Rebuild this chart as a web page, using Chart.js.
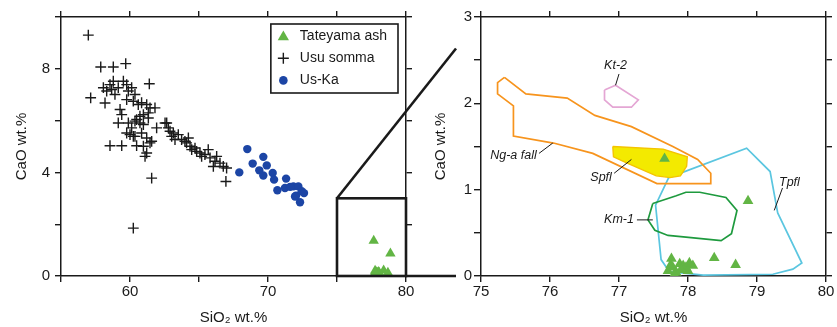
<!DOCTYPE html>
<html><head><meta charset="utf-8">
<script src="https://cdn.jsdelivr.net/npm/chart.js@4/dist/chart.umd.min.js"></script>
<style>
html,body{margin:0;padding:0;background:#fff;}
#wrap{position:relative;width:837px;height:327px;background:#fff;}
#wrap canvas{position:absolute;left:0;top:0;}
</style></head><body>
<div id="wrap"><canvas id="leftC" width="837" height="327"></canvas><canvas id="rightC" width="837" height="327"></canvas></div>
<script>
// ---------------- DATA (SiO2 wt.%, CaO wt.%) ----------------
const tateyamaAsh = [[77.66,1.36],[78.87,0.87],[78.38,0.21],[78.69,0.13],[77.76,0.20],[77.71,0.06],[77.78,0.10],[77.83,0.04],[77.88,0.14],[77.93,0.12],[77.97,0.10],[78.02,0.15],[78.07,0.12],[77.80,0.02],[77.90,0.07],[78.00,0.06],[77.75,0.13]];
const usuSomma = [[56.98,9.30],[57.88,8.07],[58.79,8.07],[59.69,8.20],[61.40,7.42],[57.15,6.88],[58.19,6.68],
 [58.07,7.27],[58.31,7.14],[58.55,7.39],[58.79,7.52],[58.67,7.20],[58.91,7.01],[59.15,7.27],[59.52,7.52],[59.76,7.39],[59.88,7.14],[60.12,7.27],[60.36,7.01],[59.76,6.81],[60.24,6.75],[60.60,6.62],[60.84,6.69],[61.21,6.62],[61.45,6.49],[61.81,6.49],[61.33,6.30],[60.97,6.23],[60.72,6.17],[60.48,6.04],[60.72,5.91],[60.36,5.98],[59.28,6.43],[59.40,6.23],[59.15,5.91],[59.88,5.91],[60.12,5.72],[61.33,6.10],[60.97,5.85],[61.93,5.72],[60.00,5.46],[60.36,5.39],[60.84,5.52],[61.21,5.33],[61.57,5.20],[58.55,5.03],[59.40,5.03],[60.48,5.03],[61.21,4.75],[61.09,4.62],[62.54,5.91],
 [59.76,5.52],[60.24,5.39],[60.97,5.01],[61.45,5.14],
 [62.66,5.91],[62.78,5.72],[62.90,5.59],[63.14,5.52],[63.02,5.39],[63.26,5.27],[63.50,5.46],[63.74,5.27],[63.98,5.20],[64.10,5.14],[64.23,5.33],[64.35,5.01],[64.47,4.88],[64.71,4.94],[64.83,4.81],[65.07,4.75],[65.19,4.62],[65.43,4.69],[65.67,4.88],[65.80,4.56],[66.16,4.43],[66.28,4.62],[66.52,4.36],[66.76,4.23],[67.00,4.17],[66.04,4.23],[66.95,3.65],
 [61.57,3.78],[60.24,1.85]];
const usKa = [[67.92,4.00],[68.50,4.90],[68.89,4.34],[69.66,4.60],[69.91,4.27],[69.37,4.08],[69.66,3.88],[70.34,3.98],[70.44,3.72],[70.68,3.31],[71.31,3.76],[71.23,3.40],[71.84,3.46],[72.20,3.46],[72.03,3.10],[72.44,3.27],[72.61,3.20],[72.32,2.85],[71.96,3.07],[71.60,3.44]];
// compositional fields (right panel)
const ngaFall = [[75.34,2.30],[75.24,2.24],[75.24,2.11],[75.47,1.97],[75.47,1.62],[76.05,1.54],[76.62,1.42],[77.55,1.07],[78.33,1.07],[78.33,1.19],[78.14,1.35],[77.78,1.50],[77.18,1.73],[76.65,1.86],[76.25,2.06],[75.65,2.11],[75.34,2.30]];
const kt2 = [[76.79,2.155],[76.95,2.21],[77.28,2.04],[77.18,1.955],[76.91,1.955],[76.79,2.04],[76.79,2.155]];
const spfl = [[76.91,1.50],[76.92,1.38],[77.11,1.31],[77.54,1.16],[77.74,1.14],[77.89,1.16],[77.98,1.27],[77.99,1.38],[77.64,1.47],[76.91,1.50]];
const km1 = [[77.49,0.84],[77.42,0.65],[77.52,0.53],[77.71,0.47],[77.97,0.45],[78.48,0.41],[78.63,0.49],[78.71,0.76],[78.55,0.91],[78.17,0.97],[77.97,0.97],[77.83,0.93],[77.49,0.84]];
const tpfl = [[77.72,1.14],[78.85,1.48],[79.19,1.21],[79.30,0.73],[79.65,0.15],[79.52,0.08],[79.23,0.02],[78.22,0.01],[77.73,0.05],[77.61,0.19],[77.53,0.82],[77.72,1.14]];
const seriesLabels = ['Tateyama ash','Usu somma','Us-Ka'];
const fieldLabels = ['Ng-a fall','Kt-2','Spfl','Km-1','Tpfl'];
const axisTitleX = 'SiO\u2082 wt.%';
const axisTitleY = 'CaO wt.%';
const leftX = [55,80], leftY = [0,10], rightX = [75,80], rightY = [0,3];
const insetBox = [[75,0],[80,3]];
// label anchors for the field names [text x,y, leader from x,y, to x,y]
const fieldNotes = [
 ['Kt-2', 76.95,2.44, 77.00,2.34, 76.95,2.21],
 ['Ng-a fall', 75.47,1.39, 75.84,1.42, 76.04,1.54],
 ['Spfl', 76.74,1.14, 76.93,1.19, 77.18,1.35],
 ['Km-1', 77.00,0.65, 77.26,0.65, 77.49,0.65],
 ['Tpfl', 79.47,1.08, 79.37,1.02, 79.25,0.76]
];

// ---------------- STYLE ----------------
const FONT = "'Liberation Sans', Arial, Helvetica, 'DejaVu Sans', sans-serif";
Chart.defaults.font.family = FONT;
Chart.defaults.color = '#1a1a1a';
const INK = '#1a1a1a';
const GREEN = '#62b544', BLUE = '#1c45a5';
const pts = a => a.map(p => ({x:p[0], y:p[1]}));

function axis(pos, min, max, step, labelFn, tl, pad, fitSize, title) {
  const o = {
    type:'linear', position:pos, min:min, max:max,
    ticks:{stepSize:step, autoSkip:false, maxRotation:0, padding:pad, font:{size:15}, color:INK,
           display: labelFn !== null, callback: labelFn || (()=> '')},
    grid:{display:true, drawOnChartArea:false, drawTicks:true, tickLength:tl, lineWidth:1.4, color:INK},
    border:{display:true, width:1.5, color:INK},
    afterFit: s => { if (pos==='left'||pos==='right') s.width = fitSize; else s.height = fitSize; }
  };
  if (title) o.title = {display:true, text:title, font:{size:15}, color:INK, padding:{top:0,bottom:0}};
  return o;
}

// left panel
const leftPlugin = {
  id:'leftExtras',
  afterDraw(chart) {
    const ctx = chart.ctx, xs = chart.scales.x, ys = chart.scales.y, ca = chart.chartArea;
    // inset rectangle
    ctx.save();
    ctx.strokeStyle = INK; ctx.lineWidth = 2.6;
    const x0 = xs.getPixelForValue(insetBox[0][0]), x1 = xs.getPixelForValue(insetBox[1][0]);
    const y0 = ys.getPixelForValue(insetBox[0][1]), y1 = ys.getPixelForValue(insetBox[1][1]);
    ctx.strokeRect(x0, y1, x1-x0, y0-y1);
    // legend
    ctx.font = '14px ' + FONT;
    let tw = 0; seriesLabels.forEach(t => tw = Math.max(tw, ctx.measureText(t).width));
    const w = 29 + tw + 11, h = 69;
    const right = ca.right - 8, top = ca.top + 7, left = right - w;
    ctx.fillStyle = '#fff'; ctx.fillRect(left, top, w, h);
    ctx.lineWidth = 1.6; ctx.strokeStyle = INK; ctx.strokeRect(left, top, w, h);
    const mx = left + 12.5;
    seriesLabels.forEach((t, i) => {
      const cy = top + 12 + i*22.2;
      const ds = chart.data.datasets[i];
      ctx.beginPath();
      if (i === 0) {
        const r = 6.5;
        for (let k=0;k<3;k++){ const a = k*2*Math.PI/3; const px = mx + Math.sin(a)*r, py = cy+1 - Math.cos(a)*r; k?ctx.lineTo(px,py):ctx.moveTo(px,py);} 
        ctx.closePath(); ctx.fillStyle = ds.backgroundColor; ctx.fill();
      } else if (i === 1) {
        const r = 5.5; ctx.moveTo(mx-r,cy); ctx.lineTo(mx+r,cy); ctx.moveTo(mx,cy-r); ctx.lineTo(mx,cy+r);
        ctx.strokeStyle = ds.borderColor; ctx.lineWidth = 1.4; ctx.stroke();
      } else {
        ctx.arc(mx, cy, 4.3, 0, Math.PI*2); ctx.fillStyle = ds.backgroundColor; ctx.fill();
      }
      ctx.fillStyle = INK; ctx.textBaseline = 'middle'; ctx.textAlign = 'left';
      ctx.fillText(t, left + 29, cy);
    });
    ctx.restore();
  }
};

const leftChart = new Chart(document.getElementById('leftC'), {
  type:'scatter',
  data:{datasets:[
    {label:seriesLabels[0], data:pts(tateyamaAsh), pointStyle:'triangle', pointRadius:6, backgroundColor:GREEN, borderWidth:0},
    {label:seriesLabels[1], data:pts(usuSomma), pointStyle:'cross', pointRadius:5.4, borderColor:INK, borderWidth:1.4, backgroundColor:INK},
    {label:seriesLabels[2], data:pts(usKa), pointStyle:'circle', pointRadius:4.2, backgroundColor:BLUE, borderWidth:0}
  ]},
  options:{
    responsive:false, animation:false, events:[],
    layout:{padding:{left:13, right:0, top:0, bottom:0}},
    plugins:{legend:{display:false}, tooltip:{enabled:false}},
    scales:{
      x: axis('bottom', leftX[0], leftX[1], 5, v => (v % 10 === 0 ? String(v) : ''), 6, 1, 51, axisTitleX),
      y: axis('left', leftY[0], leftY[1], 2, v => (v % 4 === 0 && v < 10 ? String(v) : ''), 6, 5, 48, axisTitleY),
      xTop: axis('top', leftX[0], leftX[1], 5, null, 6, 0, 17),
      yRight: axis('right', leftY[0], leftY[1], 2, null, 6, 0, 431)
    }
  },
  plugins:[leftPlugin]
});

// right panel
const rightPlugin = {
  id:'rightExtras',
  afterDatasetsDraw(chart) {
    const ctx = chart.ctx, xs = chart.scales.x, ys = chart.scales.y;
    ctx.save();
    ctx.font = 'italic 12.5px ' + FONT;
    ctx.fillStyle = INK; ctx.strokeStyle = INK; ctx.lineWidth = 1;
    ctx.textAlign = 'center'; ctx.textBaseline = 'middle';
    fieldNotes.forEach(n => {
      ctx.fillText(n[0], xs.getPixelForValue(n[1]), ys.getPixelForValue(n[2]));
      ctx.beginPath();
      ctx.moveTo(xs.getPixelForValue(n[3]), ys.getPixelForValue(n[4]));
      ctx.lineTo(xs.getPixelForValue(n[5]), ys.getPixelForValue(n[6]));
      ctx.stroke();
    });
    ctx.restore();
  },
  afterDraw(chart) {
    // connector lines from inset box (left panel) toward the right panel corners
    const ctx = chart.ctx, lx = leftChart.scales.x, ly = leftChart.scales.y, ca = chart.chartArea;
    const stopX = ca.left - 25;
    const seg = (px, py, qx, qy) => {
      const t = (stopX - px) / (qx - px);
      ctx.beginPath(); ctx.moveTo(px, py); ctx.lineTo(stopX, py + t*(qy-py)); ctx.stroke();
    };
    ctx.save();
    ctx.strokeStyle = INK; ctx.lineWidth = 2.6; ctx.lineCap = 'butt';
    seg(lx.getPixelForValue(insetBox[0][0]), ly.getPixelForValue(insetBox[1][1]), ca.left, ca.top);
    seg(lx.getPixelForValue(insetBox[1][0]), ly.getPixelForValue(insetBox[0][1]), ca.left, ca.bottom);
    ctx.restore();
  }
};

const poly = (label, arr, color, extra) => Object.assign({type:'line', label:label, data:pts(arr), borderColor:color, borderWidth:1.7, pointRadius:0, fill:false, tension:0}, extra||{});

new Chart(document.getElementById('rightC'), {
  type:'scatter',
  data:{datasets:[
    {label:seriesLabels[0], data:pts(tateyamaAsh), pointStyle:'triangle', pointRadius:6.2, backgroundColor:GREEN, borderWidth:0},
    poly(fieldLabels[2], spfl, '#f4c400', {fill:'shape', backgroundColor:'#f3ea00', borderWidth:1.4}),
    poly(fieldLabels[0], ngaFall, '#f7941d'),
    poly(fieldLabels[1], kt2, '#e4a6d4'),
    poly(fieldLabels[3], km1, '#1e9a3e'),
    poly(fieldLabels[4], tpfl, '#5bc6e0')
  ]},
  options:{
    responsive:false, animation:false, events:[],
    layout:{padding:{left:432, right:0, top:0, bottom:0}},
    plugins:{legend:{display:false}, tooltip:{enabled:false}},
    scales:{
      x: axis('bottom', rightX[0], rightX[1], 1, v => String(v), 6, 1, 51, axisTitleX),
      y: axis('left', rightY[0], rightY[1], 0.5, v => (Number.isInteger(v) ? String(v) : ''), 7, 2, 49, axisTitleY),
      xTop: axis('top', rightX[0], rightX[1], 1, null, 6, 0, 17),
      yRight: axis('right', rightY[0], rightY[1], 0.5, null, 6, 0, 11)
    }
  },
  plugins:[rightPlugin]
});
</script>
</body></html>
